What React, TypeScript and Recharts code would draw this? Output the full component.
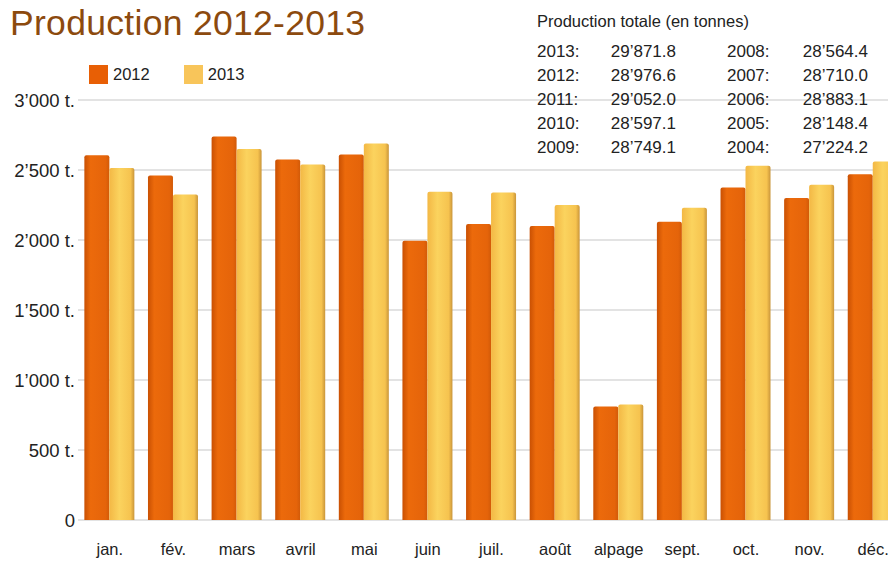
import React from 'react';
import { BarChart, Bar, XAxis, YAxis, CartesianGrid } from 'recharts';

const months = ['jan.', 'fév.', 'mars', 'avril', 'mai', 'juin', 'juil.', 'août', 'alpage', 'sept.', 'oct.', 'nov.', 'déc.'];
const prod2012 = [2605, 2460, 2740, 2575, 2610, 1995, 2115, 2100, 810, 2130, 2375, 2300, 2470];
const prod2013 = [2515, 2325, 2650, 2540, 2690, 2345, 2340, 2250, 825, 2230, 2530, 2395, 2560];
const yTicks = [0, 500, 1000, 1500, 2000, 2500, 3000];

const totalsLeft = [
  ['2013:', '29\u2019871.8'],
  ['2012:', '28\u2019976.6'],
  ['2011:', '29\u2019052.0'],
  ['2010:', '28\u2019597.1'],
  ['2009:', '28\u2019749.1'],
];
const totalsRight = [
  ['2008:', '28\u2019564.4'],
  ['2007:', '28\u2019710.0'],
  ['2006:', '28\u2019883.1'],
  ['2005:', '28\u2019148.4'],
  ['2004:', '27\u2019224.2'],
];

const data = months.map((m, i) => ({ month: m, y2012: prod2012[i], y2013: prod2013[i] }));

const FONT = '"Liberation Sans", Arial, sans-serif';

// 3'000 t. style label
const fmtTick = (v: number) => {
  if (v === 0) return '0';
  if (v >= 1000) {
    const th = Math.floor(v / 1000);
    const rest = String(v % 1000).padStart(3, '0');
    return `${th}\u2019${rest} t.`;
  }
  return `${v} t.`;
};

const TotalsColumn = ({ rows, left, width }: { rows: string[][]; left: number; width: number }) => (
  <div style={{ position: 'absolute', left, top: 40, width }}>
    {rows.map(([y, v]) => (
      <div key={y} style={{ display: 'flex', justifyContent: 'space-between', height: 24, lineHeight: '24px' }}>
        <span>{y}</span>
        <span>{v}</span>
      </div>
    ))}
  </div>
);

const App: React.FC = () => {
  return (
    <div style={{ position: 'absolute', left: 0, top: 0, width: 888, height: 562, overflow: 'hidden', background: '#fff', fontFamily: FONT }}>
      <div style={{ position: 'absolute', left: 0, top: 0 }}>
        <BarChart
          width={905}
          height={560}
          data={data}
          margin={{ top: 100, right: 0, bottom: 0, left: 0 }}
          barCategoryGap="10%"
          barGap={0}
        >
          <defs>
            <linearGradient id="g2012" x1="0" y1="0" x2="1" y2="0">
              <stop offset="0%" stopColor="#c95003" />
              <stop offset="25%" stopColor="#ec6a0b" />
              <stop offset="85%" stopColor="#e5640a" />
              <stop offset="100%" stopColor="#d25a08" />
            </linearGradient>
            <linearGradient id="g2013" x1="0" y1="0" x2="1" y2="0">
              <stop offset="0%" stopColor="#f3b845" />
              <stop offset="40%" stopColor="#fbd35e" />
              <stop offset="85%" stopColor="#f6c34f" />
              <stop offset="100%" stopColor="#c9953a" />
            </linearGradient>
          </defs>
          <CartesianGrid vertical={false} stroke="#dadada" strokeWidth={1.5} />
          <XAxis
            dataKey="month"
            tickLine={false}
            axisLine={false}
            tickSize={0}
            tickMargin={23}
            height={40}
            interval={0}
            tick={{ fill: '#222', fontSize: 16.5, fontFamily: FONT }}
          />
          <YAxis
            domain={[0, 3000]}
            ticks={yTicks}
            tickFormatter={fmtTick}
            tickLine={false}
            axisLine={false}
            tickSize={0}
            tickMargin={3}
            width={78}
            tick={{ fill: '#222', fontSize: 18.5, fontFamily: FONT }}
          />
          <Bar dataKey="y2012" fill="url(#g2012)" isAnimationActive={false} radius={[2, 2, 0, 0]} />
          <Bar dataKey="y2013" fill="url(#g2013)" isAnimationActive={false} radius={[2, 2, 0, 0]} />
        </BarChart>
      </div>

      <div style={{ position: 'absolute', left: 10, top: 3, fontSize: 35.5, color: '#8c4a0e', letterSpacing: 0.3 }}>
        Production 2012-2013
      </div>

      <div style={{ position: 'absolute', left: 89, top: 65, display: 'flex', alignItems: 'center', fontSize: 16.5, color: '#222' }}>
        <span style={{ width: 19, height: 19, background: '#e85f05', display: 'inline-block', marginRight: 5 }} />
        <span style={{ marginRight: 34 }}>2012</span>
        <span style={{ width: 19, height: 19, background: '#f8c55a', display: 'inline-block', marginRight: 5 }} />
        <span>2013</span>
      </div>

      <div style={{ position: 'absolute', left: 537, top: 0, width: 351, height: 160, fontSize: 17, color: '#222' }}>
        <div style={{ position: 'absolute', left: 0, top: 12, fontSize: 16.5 }}>Production totale (en tonnes)</div>
        <TotalsColumn rows={totalsLeft} left={0} width={139} />
        <TotalsColumn rows={totalsRight} left={190} width={141} />
      </div>
    </div>
  );
};

export default App;
